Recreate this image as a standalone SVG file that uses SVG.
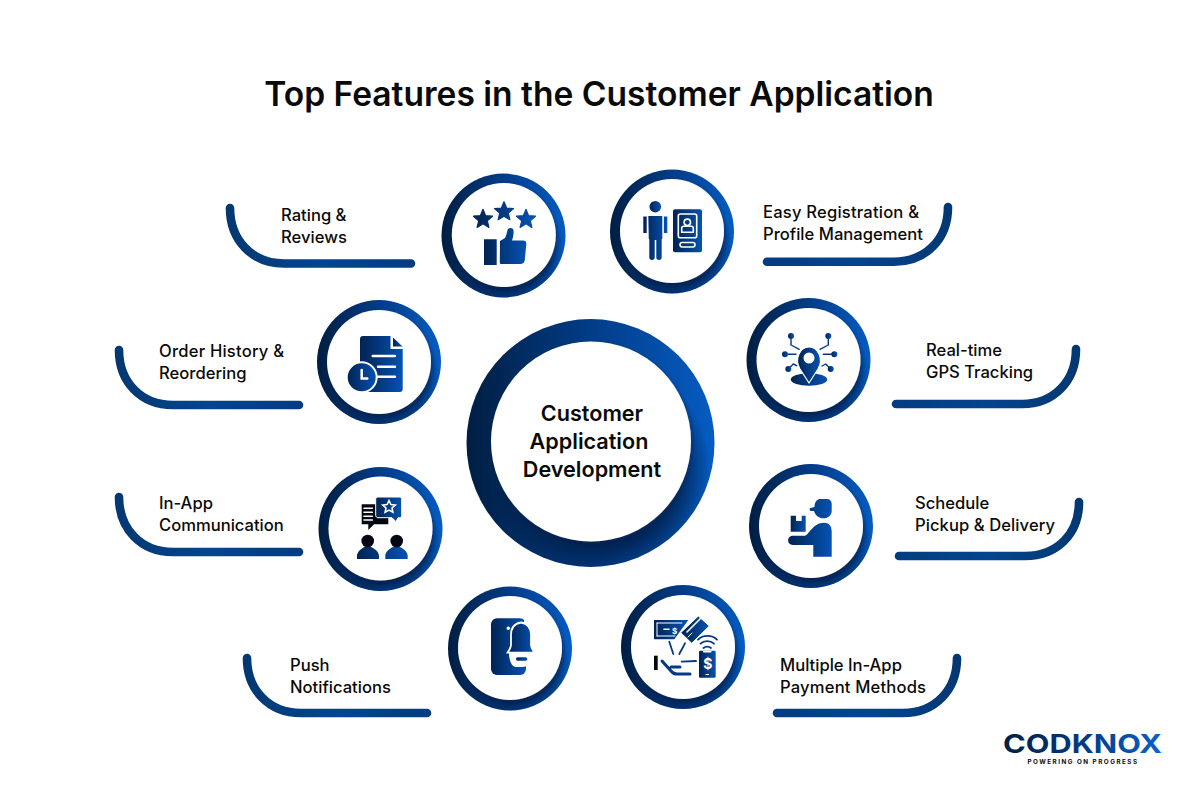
<svg xmlns="http://www.w3.org/2000/svg" width="1200" height="800" viewBox="0 0 1200 800">
<defs>
<linearGradient id="ring" x1="0" y1="0" x2="1" y2="0"><stop offset="0" stop-color="#001e42"/><stop offset="0.5" stop-color="#023c88"/><stop offset="1" stop-color="#055cc2"/></linearGradient>
<radialGradient id="ringShade" cx="0.54" cy="0.6" r="0.6"><stop offset="0.53" stop-color="#001a40" stop-opacity="0.75"/><stop offset="0.74" stop-color="#001a40" stop-opacity="0"/></radialGradient>
<linearGradient id="icon" x1="0" y1="0" x2="1" y2="0"><stop offset="0" stop-color="#012352"/><stop offset="1" stop-color="#0552b4"/></linearGradient>
<linearGradient id="arcL" x1="0" y1="0" x2="1" y2="0"><stop offset="0" stop-color="#033872"/><stop offset="0.5" stop-color="#04458f"/><stop offset="1" stop-color="#033c80"/></linearGradient>
<linearGradient id="arcR" x1="1" y1="0" x2="0" y2="0"><stop offset="0" stop-color="#033872"/><stop offset="0.5" stop-color="#04458f"/><stop offset="1" stop-color="#033c80"/></linearGradient>
<linearGradient id="wordmark" gradientUnits="userSpaceOnUse" x1="1003" y1="0" x2="1162" y2="0"><stop offset="0" stop-color="#011f44"/><stop offset="0.5" stop-color="#023a80"/><stop offset="1" stop-color="#0a62c8"/></linearGradient>
<filter id="lift" x="-20%" y="-20%" width="140%" height="140%"><feDropShadow dx="1.500" dy="1.500" stdDeviation="1.500" flood-color="#1a2550" flood-opacity="0.45"/></filter>
</defs>
<style>
text{font-family:Inter,"Liberation Sans",sans-serif;fill:#0a0a0a}
.title{font-size:33.55px;font-weight:600;text-anchor:middle}
.hub{font-size:21.6px;font-weight:600;text-anchor:middle}
.lab{font-size:16.6px;font-weight:500}
.arc{fill:none;stroke-width:8.600;stroke-linecap:round}
.l{stroke:url(#arcL)}.r{stroke:url(#arcR)}
.ring{fill:url(#ring)}
.shade{fill:url(#ringShade)}
.disc{fill:#fff;filter:url(#lift)}
.i{fill:url(#icon)}
.k{fill:#030712}
.w{fill:#fff}
.ws{fill:none;stroke:#fff;stroke-width:1.600;stroke-linecap:round}
.ls{fill:none;stroke:#023a85;stroke-width:1.800;stroke-linecap:round;stroke-linejoin:round}
</style>
<rect width="1200" height="800" fill="#fff"/>
<text class="title" x="599" y="106">Top Features in the Customer Application</text>
<g id="connectors">
<path class="arc l" d="M230 208C230 240 252 263.500 284 263.500H411"/>
<path class="arc l" d="M119 350C119 382 141 405 173 405H299"/>
<path class="arc l" d="M119 497C119 529 141 552 173 552H299"/>
<path class="arc l" d="M247 658C247 690 269 713 301 713H427"/>
<path class="arc r" d="M948 207C948 239 926 261.700 894 261.700H767"/>
<path class="arc r" d="M1076 349C1076 381 1054 404 1022 404H896"/>
<path class="arc r" d="M1079 502C1079 534 1057 556 1025 556H899"/>
<path class="arc r" d="M957 658C957 690 935 713 903 713H777"/>
</g>
<g id="hub">
<circle class="ring" cx="590.500" cy="443" r="124"/><circle class="shade" cx="590.500" cy="443" r="124"/><circle class="disc" cx="591" cy="441.500" r="100"/>
<text class="hub" x="592" y="421">Customer</text><text class="hub" x="589" y="449">Application</text><text class="hub" x="592" y="477">Development</text>
</g>
<g id="rating">
<circle class="ring" cx="503.500" cy="235.500" r="62"/><circle class="shade" cx="503.500" cy="235.500" r="62"/><circle class="disc" cx="503.800" cy="235" r="52"/>
<path class="i" style="stroke:url(#icon);stroke-width:1.200;stroke-linejoin:round" d="M483 209.300l2.650 6.360 6.860.55-5.230 4.480 1.600 6.700-5.880-3.590-5.880 3.590 1.600-6.700-5.230-4.480 6.860-.55zM504 201.700l2.650 6.360 6.860.55-5.230 4.480 1.600 6.700-5.880-3.590-5.880 3.590 1.600-6.700-5.230-4.480 6.860-.55zM526 209.300l2.650 6.360 6.860.55-5.230 4.480 1.600 6.700-5.880-3.590-5.880 3.590 1.600-6.700-5.230-4.480 6.860-.55z"/>
<path class="i" d="M484 239.300h12.700V265H484zM500 241l5-3c1.500-3 2-6 2.500-8 .5-2.500 5.500-3 6 .5.500 3-.5 7-1.500 10h11c2.500 0 3.500 1.500 3.300 3.500l-1.500 16c-.3 2.500-2 4-4.500 4h-19c-1 0-1.500-.5-1.500-1.500z"/>
<text class="lab" x="281" y="221">Rating &amp;</text><text class="lab" x="281" y="243">Reviews</text>
</g>
<g id="registration">
<circle class="ring" cx="672" cy="231.500" r="62"/><circle class="shade" cx="672" cy="231.500" r="62"/><circle class="disc" cx="672" cy="231" r="52"/>
<circle class="i" cx="655.300" cy="206.700" r="5.800"/>
<path class="i" d="M648.300 216h14v23h-.6v18.500c0 1.500-1 2.500-2.700 2.500s-2.700-1-2.700-2.500V240h-1.600v17.500c0 1.500-1 2.500-2.700 2.500s-2.700-1-2.700-2.500V239h-.5zM643.300 216.500h3.400V233h-3.400zM663.900 216.500h3.400V233h-3.400z"/>
<rect class="i" x="673" y="209.300" width="29" height="43" rx="2"/>
<rect class="ws" x="678.300" y="214" width="18.400" height="23.700" rx="2"/><circle class="ws" cx="687.300" cy="222.300" r="3.200"/><path class="ws" d="M681.700 232.300v-4c0-1 1-2 2-2h7.600c1 0 2 1 2 2v4z"/><rect class="ws" x="680" y="242.500" width="15" height="4.500" rx="2.200"/>
<text class="lab" x="763" y="218" textLength="156">Easy Registration &amp;</text><text class="lab" x="763" y="240" textLength="160">Profile Management</text>
</g>
<g id="history">
<circle class="ring" cx="379" cy="362" r="62"/><circle class="shade" cx="379" cy="362" r="62"/><circle class="disc" cx="379" cy="362" r="52"/>
<path class="i" d="M360 339c0-2 1-3 3-3h27.500v13h12.200v40c0 2-1 3-3 3H360z"/><path class="i" d="M393 337.500l9.500 9H393z"/>
<path class="ws" style="stroke-width:2.400" d="M372.700 356H395M378 366.700h17M378 376.700h17"/>
<circle class="i" cx="361.700" cy="377.300" r="15" style="stroke:#fff;stroke-width:2"/><path class="ws" style="stroke-width:2.500" d="M361.700 370v8.500h5.600"/>
<text class="lab" x="159" y="357" textLength="125">Order History &amp;</text><text class="lab" x="159" y="379">Reordering</text>
</g>
<g id="communication">
<circle class="ring" cx="380.500" cy="529" r="62"/><circle class="shade" cx="380.500" cy="529" r="62"/><circle class="disc" cx="380.500" cy="528.500" r="52"/>
<path class="k" d="M361.700 504.300h26.600v20h-14.300l-5.700 5.700v-5.700h-6.600z"/><path class="ws" d="M364 508.300h8.300M364 512.300h8.300M364 516.300h8.300M364 520h8.300"/>
<path class="i" style="stroke:#fff;stroke-width:1" d="M378 497h21.500c1.200 0 2.200 1 2.200 2.200v16.300c0 1.200-1 2.200-2.200 2.200h-1.500l-2 4-4-4H378c-1.200 0-2.300-1-2.300-2.200v-16.300c0-1.200 1.100-2.200 2.300-2.200z"/>
<path class="ws" d="M389 500.500l1.900 4 4.400.5-3.300 3 .9 4.300-3.900-2.200-3.900 2.200.9-4.300-3.300-3 4.400-.5z"/>
<path class="i" d="M357 559v-3c0-4 4-7.500 8-9.300h5.400c4.600 1.800 8.600 5.300 8.600 9.300v3zM385.300 559v-3c0-4 4-7.500 8.100-9.300h6c4.300 1.800 8.300 5.300 8.300 9.300v3z"/>
<circle class="k" cx="367.700" cy="541" r="6.300"/><circle class="k" cx="396.700" cy="541" r="6.300"/>
<text class="lab" x="159" y="509">In-App</text><text class="lab" x="159" y="531">Communication</text>
</g>
<g id="push">
<circle class="ring" cx="510" cy="648.500" r="62"/><circle class="shade" cx="510" cy="648.500" r="62"/><circle class="disc" cx="510" cy="648" r="52"/>
<rect class="i" x="491" y="618.300" width="35" height="56.700" rx="6"/>
<path fill="#fff" d="M509 653h24v3c0 6-5 11-11 11h-6c-4 0-7-6-7-14z"/>
<path fill="#fff" d="M524 617h6v10h-6z"/>
<path class="i" style="stroke:#fff;stroke-width:1.800" d="M521 622.500c6.500 1 10 5.500 10 12.500v10c0 3 2 5 3.500 7.700h-27c1.500-2.700 3.500-4.700 3.500-7.700v-10c0-7 3.500-11.500 10-12.500z"/>
<rect class="i" x="516" y="657.300" width="11.300" height="3.400" rx="1.700"/>
<circle class="w" cx="508.300" cy="628.300" r="1.800"/>
<text class="lab" x="290" y="671">Push</text><text class="lab" x="290" y="693">Notifications</text>
</g>
<g id="payment">
<circle class="ring" cx="683" cy="647" r="62"/><circle class="shade" cx="683" cy="647" r="62"/><circle class="disc" cx="683" cy="647" r="52"/>
<path class="i" d="M654 620h34.300l-14 19.300H654z"/><path class="ws" style="stroke-width:1" d="M657 623h25M657 636h18M657 623v13"/><path class="ws" style="stroke-width:1.600" d="M664 629.300h5"/>
<text x="672" y="634" style="fill:#fff;font-size:8px;font-weight:700">$</text>
<path class="i" style="stroke:#fff;stroke-width:1" d="M698.300 616l11 10-17.600 17.300-11-10.600z"/><path class="ws" d="M687 632l14-14"/><path class="ws" style="stroke-width:1" d="M688 637l4-4"/>
<path class="ls" d="M669.300 641.700l4 12.300M685 643.300l-5.700 10.700M681.700 661.700l14.300-.7"/>
<rect class="k" x="654" y="655.700" width="3.700" height="14.300"/>
<path class="ls" style="stroke-width:3" d="M662 661l9 10c1.500 2 3.500 3 6 3h13M671 667h9"/>
<rect class="i" x="699" y="650.700" width="16.700" height="27" rx="1.200"/><rect class="w" x="703" y="650.700" width="8.600" height="1.800" rx=".9"/>
<text x="703.200" y="669" style="fill:#fff;font-size:14px;font-weight:700">$</text><rect class="w" x="705.500" y="674" width="3.500" height="1"/>
<path class="ls" d="M703.500 648c2-1.800 5.500-1.800 7.500 0M700.500 643.700c3.500-3.500 10-3.500 13.500 0M698 639.700c5-5 14-5 19 0"/>
<text class="lab" x="780" y="671">Multiple In-App</text><text class="lab" x="780" y="693" textLength="146">Payment Methods</text>
</g>
<g id="tracking">
<circle class="ring" cx="808.500" cy="360" r="62"/><circle class="shade" cx="808.500" cy="360" r="62"/><circle class="disc" cx="808.500" cy="360" r="52"/>
<ellipse class="i" cx="809" cy="379.500" rx="18.200" ry="6.200"/>
<path class="i" style="stroke:#fff;stroke-width:1.200" d="M809 383l-9-14c-6-10 0-22 9-22s15 12 9 22z"/><circle class="w" cx="809" cy="358" r="5.500"/>
<path class="ls" style="stroke-width:1.400" d="M791 336v9l8.300 4.300M828.300 336v9l-8.300 4.300M785 354.300h11M834.300 354.300h-11M788.300 369l5-5 3.400 1.700M830.700 369l-5-5-3.700 2"/>
<circle class="i" cx="791" cy="336" r="3"/><circle class="i" cx="828.300" cy="336" r="3"/><circle class="i" cx="785" cy="354.300" r="3"/><circle class="i" cx="834.300" cy="354.300" r="3"/><circle class="i" cx="788.300" cy="369" r="3"/><circle class="i" cx="830.700" cy="369" r="3"/>
<text class="lab" x="926" y="356">Real-time</text><text class="lab" x="926" y="378">GPS Tracking</text>
</g>
<g id="schedule">
<circle class="ring" cx="811" cy="526" r="62"/><circle class="shade" cx="811" cy="526" r="62"/><circle class="disc" cx="811" cy="526" r="52"/>
<path class="i" d="M790.700 515.700H796V521h5.700v-5.300h4v16h-15z"/>
<path class="i" d="M820 499h7c3 0 4.700 2 4.700 5v7c0 4-3.500 7.300-8 7.300-5 0-8.500-3-9.700-7.300h-3c-1.500 0-2-2.500-.5-3l4-1c0-4 2-8 5.500-8zM824 522.700c5 0 7.700 3 7.700 9v25H813.300V545H793c-6.500 0-6.500-9.300 0-9.300h12c4-1 8-13 19-13z"/>
<text class="lab" x="915" y="509">Schedule</text><text class="lab" x="915" y="531" textLength="140">Pickup &amp; Delivery</text>
</g>
<g id="brand">
<text x="1003" y="752.500" textLength="159" lengthAdjust="spacingAndGlyphs" style="font-size:26px;font-weight:700;fill:url(#wordmark)">CODKNOX</text>
<text x="1083" y="763.500" style="font-size:6.300px;font-weight:700;text-anchor:middle;letter-spacing:1.500px">POWERING ON PROGRESS</text>
</g>
</svg>
